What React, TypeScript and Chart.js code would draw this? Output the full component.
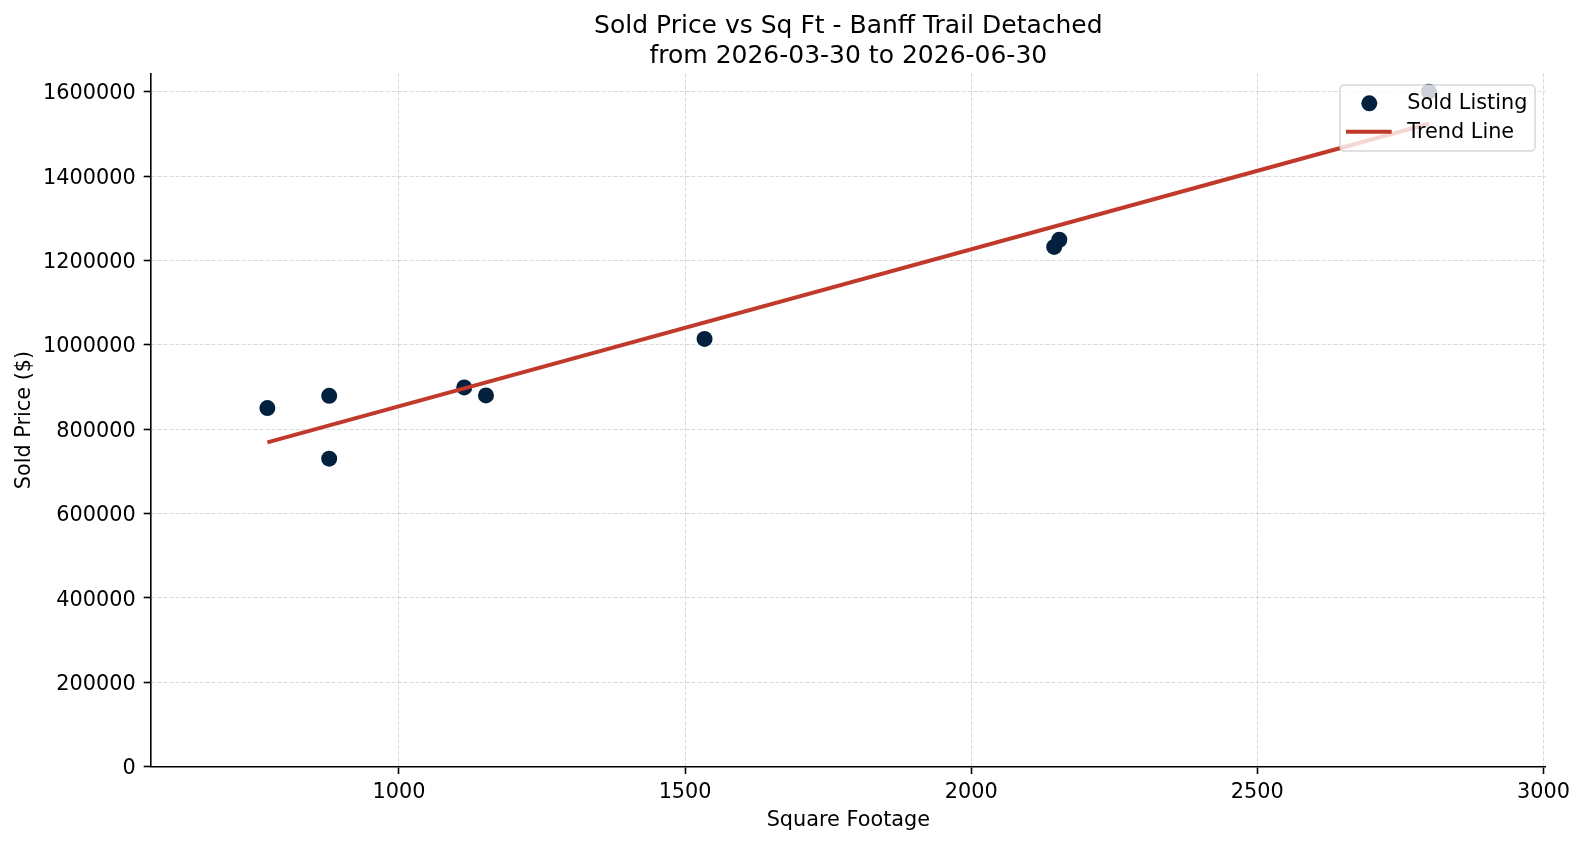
import React, { useEffect, useRef } from "react";
import { Chart, registerables } from "chart.js";

Chart.register(...registerables);

// Sold listings: square footage and sold price
const sqFt = [770, 878, 878, 1114, 1152, 1534, 2145, 2154, 2800];
const soldPrice = [850000, 879000, 730000, 899000, 880000, 1014000, 1232000, 1249000, 1600000];

// Trend line endpoints
const trendSqFt = [770, 2800];
const trendPrice = [768600, 1524000];

// Axis ticks
const xTicks = [1000, 1500, 2000, 2500, 3000];
const yTicks = [0, 200000, 400000, 600000, 800000, 1000000, 1200000, 1400000, 1600000];

const titleLines = ["Sold Price vs Sq Ft - Banff Trail Detached", "from 2026-03-30 to 2026-06-30"];
const xTitle = "Square Footage";
const yTitle = "Sold Price ($)";
const legendLabels = ["Sold Listing", "Trend Line"];

const W = 1584;
const H = 845;
const FONT = "'DejaVu Sans', sans-serif";
const POINT_COLOR = "#03203f";
const LINE_COLOR = "#c0392b";
const GRID_COLOR = "rgba(128,128,128,0.3)";
const TICK_LEN = 7.3;

const textPlugin = {
  id: "textOverlay",
  afterDraw(chart: any) {
    const { ctx, chartArea } = chart;
    const cx = (chartArea.left + chartArea.right) / 2;
    const cy = (chartArea.top + chartArea.bottom) / 2;
    ctx.save();
    ctx.fillStyle = "#000";

    // Y tick labels, centred on their tick marks
    const yScale = chart.scales.y;
    ctx.font = `20.8px ${FONT}`;
    ctx.textAlign = "right";
    ctx.textBaseline = "alphabetic";
    yTicks.forEach((v) => {
      const py = yScale.getPixelForValue(v);
      ctx.fillText(String(v), chartArea.left - TICK_LEN - 8, py + 7.6);
    });

    // Title
    ctx.font = `25px ${FONT}`;
    ctx.textAlign = "center";
    ctx.fillText(titleLines[0], cx, 33);
    ctx.fillText(titleLines[1], cx, 62.7);

    // Axis titles
    ctx.font = `20.8px ${FONT}`;
    ctx.fillText(xTitle, cx, 825.5);
    ctx.save();
    ctx.translate(30, cy);
    ctx.rotate(-Math.PI / 2);
    ctx.fillText(yTitle, 0, 0);
    ctx.restore();

    // Legend box
    const bx = 1340, by = 85, bw = 195, bh = 66, r = 4;
    ctx.beginPath();
    ctx.moveTo(bx + r, by);
    ctx.lineTo(bx + bw - r, by);
    ctx.arcTo(bx + bw, by, bx + bw, by + r, r);
    ctx.lineTo(bx + bw, by + bh - r);
    ctx.arcTo(bx + bw, by + bh, bx + bw - r, by + bh, r);
    ctx.lineTo(bx + r, by + bh);
    ctx.arcTo(bx, by + bh, bx, by + bh - r, r);
    ctx.lineTo(bx, by + r);
    ctx.arcTo(bx, by, bx + r, by, r);
    ctx.closePath();
    ctx.fillStyle = "rgba(255,255,255,0.8)";
    ctx.fill();
    ctx.strokeStyle = "rgba(204,204,204,0.8)";
    ctx.lineWidth = 1.5;
    ctx.stroke();

    // Legend entries
    ctx.fillStyle = POINT_COLOR;
    ctx.beginPath();
    ctx.arc(1369.3, 103.3, 8, 0, Math.PI * 2);
    ctx.fill();

    ctx.strokeStyle = LINE_COLOR;
    ctx.lineWidth = 4;
    ctx.beginPath();
    ctx.moveTo(1346, 131.7);
    ctx.lineTo(1391.7, 131.7);
    ctx.stroke();

    ctx.fillStyle = "#000";
    ctx.textAlign = "left";
    ctx.font = `20.8px ${FONT}`;
    ctx.fillText(legendLabels[0], 1407.3, 109.3);
    ctx.fillText(legendLabels[1], 1407.3, 138.3);
    ctx.restore();
  },
};

export default function App() {
  const canvasRef = useRef<HTMLCanvasElement | null>(null);

  useEffect(() => {
    document.body.style.margin = "0";
    const canvas = canvasRef.current;
    if (!canvas) return;

    const points = sqFt.map((x, i) => ({ x, y: soldPrice[i] }));
    const trend = trendSqFt.map((x, i) => ({ x, y: trendPrice[i] }));

    const chart = new Chart(canvas, {
      type: "scatter",
      data: {
        datasets: [
          {
            label: legendLabels[1],
            data: trend,
            showLine: true,
            borderColor: LINE_COLOR,
            backgroundColor: LINE_COLOR,
            borderWidth: 4,
            pointRadius: 0,
            order: 0,
          },
          {
            label: legendLabels[0],
            data: points,
            backgroundColor: POINT_COLOR,
            borderColor: POINT_COLOR,
            pointRadius: 8,
            pointBorderWidth: 0,
            order: 1,
          },
        ],
      },
      options: {
        responsive: false,
        animation: false,
        devicePixelRatio: 1,
        events: [],
        layout: { padding: { top: 73.3, right: 38.3, bottom: 0, left: 0 } },
        plugins: {
          legend: { display: false },
          title: { display: false },
          tooltip: { enabled: false },
        },
        scales: {
          x: {
            type: "linear",
            min: 566.6,
            max: 3004,
            afterBuildTicks: (s: any) => {
              s.ticks = xTicks.map((v) => ({ value: v }));
            },
            afterFit: (s: any) => {
              s.height = 78.3;
            },
            grid: {
              color: GRID_COLOR,
              lineWidth: 1,
              drawTicks: true,
              tickLength: TICK_LEN,
              tickColor: "#000",
              tickWidth: 1.6,
              tickBorderDash: [],
            },
            border: { display: true, color: "#000", width: 1.6, dash: [4, 2] },
            ticks: {
              color: "#000",
              font: { family: FONT, size: 20.8 },
              padding: 6,
              maxRotation: 0,
              callback: (v: any) => String(v),
            },
          },
          y: {
            type: "linear",
            min: 0,
            max: 1643500,
            afterBuildTicks: (s: any) => {
              s.ticks = yTicks.map((v) => ({ value: v }));
            },
            afterFit: (s: any) => {
              s.width = 151;
            },
            grid: {
              color: GRID_COLOR,
              lineWidth: 1,
              drawTicks: true,
              tickLength: TICK_LEN,
              tickColor: "#000",
              tickWidth: 1.6,
              tickBorderDash: [],
            },
            border: { display: true, color: "#000", width: 1.6, dash: [4, 2] },
            ticks: {
              display: false,
            },
          },
        },
      },
      plugins: [textPlugin],
    });

    return () => chart.destroy();
  }, []);

  return (
    <div style={{ width: W, height: H, background: "#fff" }}>
      <canvas ref={canvasRef} width={W} height={H} style={{ display: "block" }} />
    </div>
  );
}
